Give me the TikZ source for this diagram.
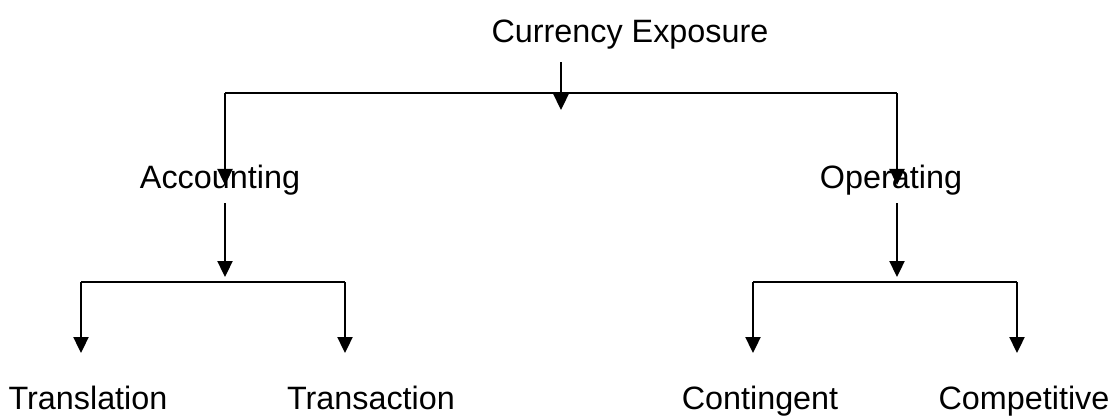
\documentclass[tikz,border=0pt]{standalone}
\usepackage{fontspec}
\setmainfont{Liberation Sans}
\usetikzlibrary{arrows.meta, positioning}

\begin{document}
\begin{tikzpicture}[x=0.025cm, y=-0.025cm, line width=1.1pt, >={Triangle[width=0.38cm,length=0.4cm]},
    lbl/.style={anchor=base, inner sep=0pt, font=\fontsize{23}{27}\selectfont}]
    \useasboundingbox (0,0) rectangle (1111,415);

    % Labels
    \node [lbl] (exp) at (630,42) {Currency Exposure};
    \node [lbl] (acc) at (220,188) {Accounting};
    \node [lbl] (opr) at (891,188) {Operating};
    \node [lbl] (trl) at (88,409) {Translation};
    \node [lbl] (trs) at (371,409) {Transaction};
    \node [lbl] (con) at (760,409) {Contingent};
    \node [lbl] (cmp) at (1024,409) {Competitive};

    % Top level
    \coordinate (expOut) at (561,62);
    \coordinate (expTip) at (561,110);
    \coordinate (barL) at (225,93);
    \coordinate (barR) at (897,93);
    \coordinate (accIn) at (225,185);
    \coordinate (oprIn) at (897,185);
    \draw [->] (expOut) -- (expTip);
    \draw (barL) -- (barR);
    \draw [->] (barL) -- (accIn);
    \draw [->] (barR) -- (oprIn);

    % Accounting branch
    \coordinate (accOut) at (225,203);
    \coordinate (accTip) at (225,277);
    \coordinate (accL) at (81,282);
    \coordinate (accR) at (345,282);
    \draw [->] (accOut) -- (accTip);
    \draw (accL) -- (accR);
    \draw [->] (accL) -- (accL |- 0,353);
    \draw [->] (accR) -- (accR |- 0,353);

    % Operating branch
    \coordinate (oprOut) at (897,203);
    \coordinate (oprTip) at (897,277);
    \coordinate (oprL) at (753,282);
    \coordinate (oprR) at (1017,282);
    \draw [->] (oprOut) -- (oprTip);
    \draw (oprL) -- (oprR);
    \draw [->] (oprL) -- (oprL |- 0,353);
    \draw [->] (oprR) -- (oprR |- 0,353);

\end{tikzpicture}
\end{document}
